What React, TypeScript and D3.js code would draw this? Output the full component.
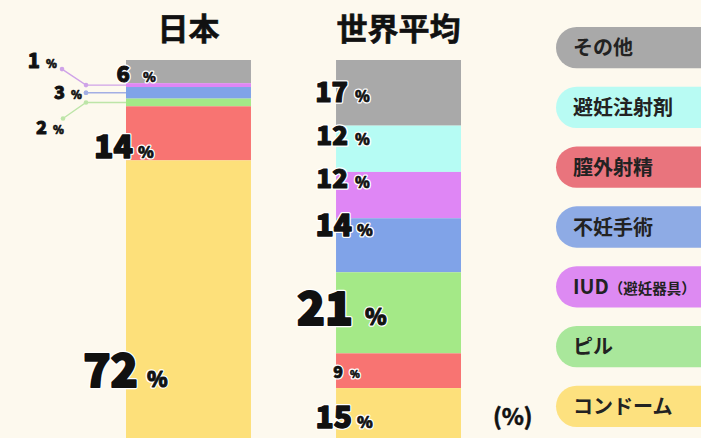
import React from "react";
import * as d3 from "d3";

// ---------- data ----------
const methods = ["その他", "避妊注射剤", "IUD（避妊器具）", "不妊手術", "ピル", "膣外射精", "コンドーム"];
const regions = ["日本", "世界平均"];
const japanShares = [6, 0, 1, 3, 2, 14, 72];
const worldShares = [17, 12, 12, 14, 21, 9, 15];
const legendOrder = ["その他", "避妊注射剤", "膣外射精", "不妊手術", "IUD（避妊器具）", "ピル", "コンドーム"];
const unitLabel = "(%)";

// ---------- styles ----------
const BG = "#fdf9ee";
const barColors: Record<string, string> = {
  "その他": "#a9a9a9",
  "避妊注射剤": "#b6fcf4",
  "IUD（避妊器具）": "#df86f5",
  "不妊手術": "#80a3e8",
  "ピル": "#a4e987",
  "膣外射精": "#f87472",
  "コンドーム": "#fde07a",
};
const legendColors: Record<string, string> = {
  "その他": "#a9a9a9",
  "避妊注射剤": "#b8fbf3",
  "膣外射精": "#e9747d",
  "不妊手術": "#8eabe5",
  "IUD（避妊器具）": "#dd8af2",
  "ピル": "#a9e79b",
  "コンドーム": "#fde17f",
};
const calloutColors: Record<string, string> = {
  "IUD（避妊器具）": "#cfa3e8",
  "不妊手術": "#a3aee4",
  "ピル": "#bde5a8",
};
const FONT = "'Noto Sans CJK JP', 'Noto Sans', sans-serif";

type InlineStyle = { frac: number; size: number; pct: number; dx: number; gap: number };
const inlineStyles: Record<string, Record<string, InlineStyle>> = {
  "日本": {
    "その他": { frac: 0.97, size: 22, pct: 13, dx: 4, gap: 13 },
    "膣外射精": { frac: 0.95, size: 32, pct: 16, dx: 7, gap: 5 },
    "コンドーム": { frac: 0.815, size: 45, pct: 21, dx: 12, gap: 9 },
  },
  "世界平均": {
    "その他": { frac: 0.64, size: 27, pct: 15, dx: 12, gap: 7 },
    "避妊注射剤": { frac: 0.42, size: 26, pct: 15, dx: 12, gap: 7 },
    "IUD（避妊器具）": { frac: 0.35, size: 26, pct: 15, dx: 12, gap: 7 },
    "不妊手術": { frac: 0.33, size: 30, pct: 16, dx: 16, gap: 5 },
    "ピル": { frac: 0.65, size: 46, pct: 22, dx: 17, gap: 12 },
    "膣外射精": { frac: 0.71, size: 16, pct: 10, dx: 7, gap: 7 },
    "コンドーム": { frac: 0.69, size: 30, pct: 16, dx: 16, gap: 5 },
  },
};
type CalloutStyle = { dotX: number; dotDy: number; elbowX: number; numX: number; numDy: number; size: number };
const calloutStyles: Record<string, CalloutStyle> = {
  "IUD（避妊器具）": { dotX: 62, dotDy: -16, elbowX: 86, numX: 40, numDy: -17, size: 20 },
  "不妊手術": { dotX: 86, dotDy: 0, elbowX: 86, numX: 65, numDy: 6, size: 18 },
  "ピル": { dotX: 63, dotDy: 16, elbowX: 86, numX: 47, numDy: 32, size: 18 },
};

const W = 701;
const H = 438;

function BoldNum(props: { x: number; y: number; size: number; anchor?: string; children: React.ReactNode; halo?: boolean }) {
  const { x, y, size, anchor, children, halo } = props;
  const st: React.CSSProperties = { fontFamily: FONT, fontWeight: 900, fontSize: size };
  const thick = Math.max(0.6, size * 0.045);
  return (
    <g>
      {halo && (
        <text x={x} y={y} textAnchor={anchor as any} style={st} fill="#fff" stroke="#fff" strokeWidth={thick + 2.5} strokeLinejoin="round">
          {children}
        </text>
      )}
      <text x={x} y={y} textAnchor={anchor as any} style={st} fill="#111" stroke="#111" strokeWidth={thick} strokeLinejoin="round">
        {children}
      </text>
    </g>
  );
}

export default function App() {
  const rows = regions.map((r, i) => {
    const vals = i === 0 ? japanShares : worldShares;
    const row: Record<string, number | string> = { region: r };
    methods.forEach((m, j) => (row[m] = vals[j]));
    return row;
  });
  const stacked = d3.stack<any>().keys(methods)(rows as any);

  const x = d3.scaleBand<string>().domain(regions).range([126, 461]).paddingInner(0.405).paddingOuter(0);
  const y = d3.scaleLinear().domain([0, 100]).range([60, 446]);

  const legendY = d3.scaleBand<string>().domain(legendOrder).range([27, 427]).paddingInner(0.31).paddingOuter(0);

  const labels: React.ReactNode[] = [];
  stacked.forEach((series) => {
    const m = series.key;
    series.forEach((d, ri) => {
      const region = regions[ri];
      const v = (d.data as any)[m] as number;
      if (!v) return;
      const x0 = x(region)!;
      const top = y(d[0]);
      const bot = y(d[1]);
      const st = inlineStyles[region][m];
      if (st) {
        const by = top + st.frac * (bot - top);
        const nx = x0 + st.dx;
        labels.push(
          <g key={`l-${region}-${m}`}>
            <BoldNum x={nx} y={by} size={st.size} anchor="end" halo>
              {v}
            </BoldNum>
            <BoldNum x={nx + st.gap} y={by} size={st.pct} halo>
              %
            </BoldNum>
          </g>
        );
      } else {
        const cs = calloutStyles[m];
        if (!cs) return;
        const ly = (top + bot) / 2;
        const c = calloutColors[m];
        const path = d3.path();
        path.moveTo(cs.dotX, ly + cs.dotDy);
        path.lineTo(cs.elbowX, ly);
        path.lineTo(x0, ly);
        labels.push(
          <g key={`c-${region}-${m}`}>
            <path d={path.toString()} fill="none" stroke={c} strokeWidth={1.4} />
            <circle cx={cs.dotX} cy={ly + cs.dotDy} r={2.3} fill={c} />
            <circle cx={cs.elbowX} cy={ly} r={2.3} fill={c} />
            <BoldNum x={cs.numX} y={ly + cs.numDy} size={cs.size} anchor="end">
              {v}
            </BoldNum>
            <BoldNum x={cs.numX + 6} y={ly + cs.numDy} size={11}>
              %
            </BoldNum>
          </g>
        );
      }
    });
  });

  return (
    <div style={{ position: "fixed", left: 0, top: 0, width: W, height: H, background: BG }}>
      <svg width={W} height={H} style={{ display: "block" }}>
        <rect width={W} height={H} fill={BG} />
        {/* titles */}
        {regions.map((r) => (
          <text
            key={`t-${r}`}
            x={x(r)! + x.bandwidth() / 2}
            y={40}
            textAnchor="middle"
            style={{ fontFamily: FONT, fontWeight: 700, fontSize: 31 }}
            fill="#111"
            stroke="#111"
            strokeWidth={0.6}
          >
            {r}
          </text>
        ))}
        {/* bars */}
        {stacked.map((series) =>
          series.map((d, ri) => {
            const region = regions[ri];
            const h = y(d[1]) - y(d[0]);
            if (h <= 0) return null;
            return (
              <rect
                key={`b-${series.key}-${region}`}
                x={x(region)!}
                y={y(d[0])}
                width={x.bandwidth()}
                height={h}
                fill={barColors[series.key]}
              />
            );
          })
        )}
        {labels}
        {/* unit */}
        <text x={493} y={425} style={{ fontFamily: FONT, fontWeight: 700, fontSize: 23 }} fill="#111" stroke="#111" strokeWidth={0.6}>
          {unitLabel}
        </text>
        {/* legend */}
        {legendOrder.map((m) => {
          const ty = legendY(m)!;
          const hh = legendY.bandwidth();
          const isIUD = m.startsWith("IUD");
          return (
            <g key={`lg-${m}`}>
              <rect x={556} y={ty} width={180} height={hh} rx={hh / 2} fill={legendColors[m]} />
              <text x={573} y={ty + hh / 2 + 7.5} style={{ fontFamily: FONT, fontWeight: 700, fontSize: 20 }} fill="#222">
                {isIUD ? (
                  <>
                    IUD
                    <tspan style={{ fontSize: 14.5 }}>{m.slice(3)}</tspan>
                  </>
                ) : (
                  m
                )}
              </text>
            </g>
          );
        })}
      </svg>
    </div>
  );
}
